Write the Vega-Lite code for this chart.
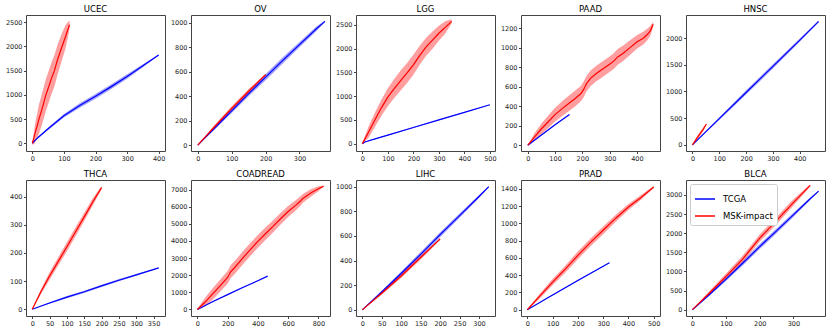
{
"$schema":"https://vega.github.io/schema/vega-lite/v6.json",
"padding":4,
"config":{"font":"DejaVu Sans","numberFormat":"d","view":{"stroke":"#444","strokeWidth":1},
"axis":{"domain":false,"grid":false,"labelFontSize":6.5,"labelColor":"#222","tickColor":"#444","tickSize":2.5,"labelPadding":1.5,"title":null},
"title":{"fontSize":8.5,"fontWeight":"normal","offset":2,"color":"#000","anchor":"middle"}},
"data":{"values":[
{"c":"UCEC","g":"TCGA","x":0,"y":0,"lo":0,"hi":0},
{"c":"UCEC","g":"TCGA","x":10,"y":70,"lo":60,"hi":80},
{"c":"UCEC","g":"TCGA","x":20,"y":130,"lo":115,"hi":145},
{"c":"UCEC","g":"TCGA","x":50,"y":300,"lo":275,"hi":325},
{"c":"UCEC","g":"TCGA","x":100,"y":567,"lo":530,"hi":604},
{"c":"UCEC","g":"TCGA","x":150,"y":780,"lo":735,"hi":825},
{"c":"UCEC","g":"TCGA","x":200,"y":970,"lo":920,"hi":1020},
{"c":"UCEC","g":"TCGA","x":250,"y":1170,"lo":1120,"hi":1220},
{"c":"UCEC","g":"TCGA","x":300,"y":1380,"lo":1335,"hi":1425},
{"c":"UCEC","g":"TCGA","x":350,"y":1600,"lo":1570,"hi":1630},
{"c":"UCEC","g":"TCGA","x":400,"y":1822,"lo":1812,"hi":1832},
{"c":"UCEC","g":"MSK-impact","x":0,"y":0,"lo":-30,"hi":30},
{"c":"UCEC","g":"MSK-impact","x":5,"y":110,"lo":-20,"hi":240},
{"c":"UCEC","g":"MSK-impact","x":10,"y":240,"lo":30,"hi":450},
{"c":"UCEC","g":"MSK-impact","x":15,"y":350,"lo":90,"hi":610},
{"c":"UCEC","g":"MSK-impact","x":21,"y":500,"lo":200,"hi":800},
{"c":"UCEC","g":"MSK-impact","x":30,"y":690,"lo":370,"hi":1010},
{"c":"UCEC","g":"MSK-impact","x":43,"y":1000,"lo":670,"hi":1330},
{"c":"UCEC","g":"MSK-impact","x":50,"y":1130,"lo":800,"hi":1460},
{"c":"UCEC","g":"MSK-impact","x":60,"y":1330,"lo":1000,"hi":1660},
{"c":"UCEC","g":"MSK-impact","x":70,"y":1500,"lo":1175,"hi":1825},
{"c":"UCEC","g":"MSK-impact","x":80,"y":1730,"lo":1420,"hi":2040},
{"c":"UCEC","g":"MSK-impact","x":94,"y":2000,"lo":1720,"hi":2280},
{"c":"UCEC","g":"MSK-impact","x":105,"y":2200,"lo":1960,"hi":2440},
{"c":"UCEC","g":"MSK-impact","x":112,"y":2340,"lo":2170,"hi":2500},
{"c":"UCEC","g":"MSK-impact","x":118,"y":2450,"lo":2370,"hi":2530},
{"c":"OV","g":"TCGA","x":0,"y":0,"lo":0,"hi":0},
{"c":"OV","g":"TCGA","x":50,"y":140,"lo":128,"hi":152},
{"c":"OV","g":"TCGA","x":100,"y":280,"lo":262,"hi":298},
{"c":"OV","g":"TCGA","x":150,"y":420,"lo":398,"hi":442},
{"c":"OV","g":"TCGA","x":200,"y":555,"lo":530,"hi":580},
{"c":"OV","g":"TCGA","x":250,"y":690,"lo":665,"hi":715},
{"c":"OV","g":"TCGA","x":300,"y":820,"lo":798,"hi":842},
{"c":"OV","g":"TCGA","x":350,"y":950,"lo":932,"hi":968},
{"c":"OV","g":"TCGA","x":375,"y":1010,"lo":1002,"hi":1018},
{"c":"OV","g":"MSK-impact","x":0,"y":0,"lo":0,"hi":0},
{"c":"OV","g":"MSK-impact","x":50,"y":152,"lo":138,"hi":166},
{"c":"OV","g":"MSK-impact","x":100,"y":300,"lo":282,"hi":318},
{"c":"OV","g":"MSK-impact","x":150,"y":440,"lo":422,"hi":458},
{"c":"OV","g":"MSK-impact","x":200,"y":575,"lo":567,"hi":583},
{"c":"LGG","g":"TCGA","x":0,"y":0,"lo":0,"hi":0},
{"c":"LGG","g":"TCGA","x":10,"y":35,"lo":31,"hi":39},
{"c":"LGG","g":"TCGA","x":50,"y":100,"lo":92,"hi":108},
{"c":"LGG","g":"TCGA","x":100,"y":180,"lo":170,"hi":190},
{"c":"LGG","g":"TCGA","x":200,"y":340,"lo":330,"hi":350},
{"c":"LGG","g":"TCGA","x":300,"y":500,"lo":490,"hi":510},
{"c":"LGG","g":"TCGA","x":400,"y":660,"lo":652,"hi":668},
{"c":"LGG","g":"TCGA","x":500,"y":820,"lo":816,"hi":824},
{"c":"LGG","g":"MSK-impact","x":0,"y":0,"lo":-20,"hi":20},
{"c":"LGG","g":"MSK-impact","x":25,"y":250,"lo":130,"hi":370},
{"c":"LGG","g":"MSK-impact","x":50,"y":510,"lo":360,"hi":660},
{"c":"LGG","g":"MSK-impact","x":75,"y":760,"lo":590,"hi":930},
{"c":"LGG","g":"MSK-impact","x":101,"y":990,"lo":800,"hi":1180},
{"c":"LGG","g":"MSK-impact","x":125,"y":1160,"lo":960,"hi":1360},
{"c":"LGG","g":"MSK-impact","x":150,"y":1330,"lo":1120,"hi":1540},
{"c":"LGG","g":"MSK-impact","x":177,"y":1500,"lo":1290,"hi":1710},
{"c":"LGG","g":"MSK-impact","x":200,"y":1660,"lo":1450,"hi":1870},
{"c":"LGG","g":"MSK-impact","x":225,"y":1860,"lo":1660,"hi":2060},
{"c":"LGG","g":"MSK-impact","x":250,"y":2040,"lo":1850,"hi":2230},
{"c":"LGG","g":"MSK-impact","x":275,"y":2180,"lo":2000,"hi":2360},
{"c":"LGG","g":"MSK-impact","x":300,"y":2325,"lo":2165,"hi":2485},
{"c":"LGG","g":"MSK-impact","x":325,"y":2450,"lo":2320,"hi":2580},
{"c":"LGG","g":"MSK-impact","x":350,"y":2575,"lo":2530,"hi":2620},
{"c":"PAAD","g":"TCGA","x":0,"y":0,"lo":0,"hi":0},
{"c":"PAAD","g":"TCGA","x":50,"y":105,"lo":100,"hi":110},
{"c":"PAAD","g":"TCGA","x":100,"y":210,"lo":204,"hi":216},
{"c":"PAAD","g":"TCGA","x":153,"y":315,"lo":312,"hi":318},
{"c":"PAAD","g":"MSK-impact","x":0,"y":0,"lo":-5,"hi":5},
{"c":"PAAD","g":"MSK-impact","x":25,"y":85,"lo":45,"hi":125},
{"c":"PAAD","g":"MSK-impact","x":50,"y":168,"lo":113,"hi":223},
{"c":"PAAD","g":"MSK-impact","x":75,"y":240,"lo":175,"hi":305},
{"c":"PAAD","g":"MSK-impact","x":100,"y":313,"lo":243,"hi":383},
{"c":"PAAD","g":"MSK-impact","x":125,"y":372,"lo":297,"hi":447},
{"c":"PAAD","g":"MSK-impact","x":150,"y":428,"lo":348,"hi":508},
{"c":"PAAD","g":"MSK-impact","x":175,"y":482,"lo":402,"hi":562},
{"c":"PAAD","g":"MSK-impact","x":195,"y":530,"lo":450,"hi":610},
{"c":"PAAD","g":"MSK-impact","x":205,"y":572,"lo":492,"hi":652},
{"c":"PAAD","g":"MSK-impact","x":215,"y":630,"lo":550,"hi":710},
{"c":"PAAD","g":"MSK-impact","x":230,"y":685,"lo":605,"hi":765},
{"c":"PAAD","g":"MSK-impact","x":250,"y":732,"lo":652,"hi":812},
{"c":"PAAD","g":"MSK-impact","x":275,"y":780,"lo":700,"hi":860},
{"c":"PAAD","g":"MSK-impact","x":300,"y":830,"lo":750,"hi":910},
{"c":"PAAD","g":"MSK-impact","x":315,"y":862,"lo":782,"hi":942},
{"c":"PAAD","g":"MSK-impact","x":330,"y":905,"lo":825,"hi":985},
{"c":"PAAD","g":"MSK-impact","x":350,"y":942,"lo":862,"hi":1022},
{"c":"PAAD","g":"MSK-impact","x":375,"y":1000,"lo":925,"hi":1075},
{"c":"PAAD","g":"MSK-impact","x":400,"y":1058,"lo":988,"hi":1128},
{"c":"PAAD","g":"MSK-impact","x":425,"y":1100,"lo":1035,"hi":1165},
{"c":"PAAD","g":"MSK-impact","x":440,"y":1140,"lo":1080,"hi":1200},
{"c":"PAAD","g":"MSK-impact","x":450,"y":1175,"lo":1125,"hi":1225},
{"c":"PAAD","g":"MSK-impact","x":460,"y":1240,"lo":1215,"hi":1265},
{"c":"HNSC","g":"TCGA","x":0,"y":0,"lo":0,"hi":0},
{"c":"HNSC","g":"TCGA","x":100,"y":490,"lo":465,"hi":515},
{"c":"HNSC","g":"TCGA","x":200,"y":980,"lo":940,"hi":1020},
{"c":"HNSC","g":"TCGA","x":300,"y":1470,"lo":1430,"hi":1510},
{"c":"HNSC","g":"TCGA","x":400,"y":1960,"lo":1930,"hi":1990},
{"c":"HNSC","g":"TCGA","x":470,"y":2310,"lo":2300,"hi":2320},
{"c":"HNSC","g":"MSK-impact","x":0,"y":0,"lo":0,"hi":0},
{"c":"HNSC","g":"MSK-impact","x":10,"y":75,"lo":50,"hi":100},
{"c":"HNSC","g":"MSK-impact","x":20,"y":150,"lo":115,"hi":185},
{"c":"HNSC","g":"MSK-impact","x":30,"y":220,"lo":180,"hi":260},
{"c":"HNSC","g":"MSK-impact","x":40,"y":290,"lo":255,"hi":325},
{"c":"HNSC","g":"MSK-impact","x":52,"y":390,"lo":378,"hi":402},
{"c":"THCA","g":"TCGA","x":0,"y":0,"lo":0,"hi":0},
{"c":"THCA","g":"TCGA","x":50,"y":22,"lo":19.5,"hi":24.5},
{"c":"THCA","g":"TCGA","x":100,"y":43,"lo":39,"hi":47},
{"c":"THCA","g":"TCGA","x":150,"y":62,"lo":58,"hi":66},
{"c":"THCA","g":"TCGA","x":200,"y":83,"lo":79,"hi":87},
{"c":"THCA","g":"TCGA","x":250,"y":103,"lo":99,"hi":107},
{"c":"THCA","g":"TCGA","x":300,"y":122,"lo":119,"hi":125},
{"c":"THCA","g":"TCGA","x":365,"y":147,"lo":146,"hi":148},
{"c":"THCA","g":"MSK-impact","x":0,"y":0,"lo":-2,"hi":2},
{"c":"THCA","g":"MSK-impact","x":25,"y":62,"lo":53,"hi":71},
{"c":"THCA","g":"MSK-impact","x":50,"y":118,"lo":105,"hi":131},
{"c":"THCA","g":"MSK-impact","x":75,"y":170,"lo":155,"hi":185},
{"c":"THCA","g":"MSK-impact","x":100,"y":222,"lo":206,"hi":238},
{"c":"THCA","g":"MSK-impact","x":125,"y":275,"lo":259,"hi":291},
{"c":"THCA","g":"MSK-impact","x":150,"y":328,"lo":313,"hi":343},
{"c":"THCA","g":"MSK-impact","x":175,"y":382,"lo":369,"hi":395},
{"c":"THCA","g":"MSK-impact","x":200,"y":432,"lo":426,"hi":438},
{"c":"COADREAD","g":"TCGA","x":0,"y":0,"lo":0,"hi":0},
{"c":"COADREAD","g":"TCGA","x":100,"y":450,"lo":425,"hi":475},
{"c":"COADREAD","g":"TCGA","x":200,"y":870,"lo":840,"hi":900},
{"c":"COADREAD","g":"TCGA","x":300,"y":1280,"lo":1250,"hi":1310},
{"c":"COADREAD","g":"TCGA","x":400,"y":1680,"lo":1660,"hi":1700},
{"c":"COADREAD","g":"TCGA","x":465,"y":1950,"lo":1945,"hi":1955},
{"c":"COADREAD","g":"MSK-impact","x":0,"y":0,"lo":-50,"hi":50},
{"c":"COADREAD","g":"MSK-impact","x":50,"y":420,"lo":170,"hi":670},
{"c":"COADREAD","g":"MSK-impact","x":100,"y":900,"lo":570,"hi":1230},
{"c":"COADREAD","g":"MSK-impact","x":150,"y":1380,"lo":1030,"hi":1730},
{"c":"COADREAD","g":"MSK-impact","x":200,"y":1870,"lo":1500,"hi":2240},
{"c":"COADREAD","g":"MSK-impact","x":220,"y":2200,"lo":1820,"hi":2580},
{"c":"COADREAD","g":"MSK-impact","x":250,"y":2480,"lo":2100,"hi":2860},
{"c":"COADREAD","g":"MSK-impact","x":300,"y":3000,"lo":2620,"hi":3380},
{"c":"COADREAD","g":"MSK-impact","x":350,"y":3500,"lo":3120,"hi":3880},
{"c":"COADREAD","g":"MSK-impact","x":400,"y":3980,"lo":3610,"hi":4350},
{"c":"COADREAD","g":"MSK-impact","x":450,"y":4420,"lo":4060,"hi":4780},
{"c":"COADREAD","g":"MSK-impact","x":500,"y":4850,"lo":4500,"hi":5200},
{"c":"COADREAD","g":"MSK-impact","x":550,"y":5300,"lo":4960,"hi":5640},
{"c":"COADREAD","g":"MSK-impact","x":600,"y":5720,"lo":5400,"hi":6040},
{"c":"COADREAD","g":"MSK-impact","x":650,"y":6080,"lo":5780,"hi":6380},
{"c":"COADREAD","g":"MSK-impact","x":680,"y":6320,"lo":6040,"hi":6600},
{"c":"COADREAD","g":"MSK-impact","x":700,"y":6500,"lo":6240,"hi":6760},
{"c":"COADREAD","g":"MSK-impact","x":750,"y":6800,"lo":6580,"hi":7020},
{"c":"COADREAD","g":"MSK-impact","x":800,"y":7050,"lo":6900,"hi":7200},
{"c":"COADREAD","g":"MSK-impact","x":835,"y":7200,"lo":7160,"hi":7240},
{"c":"LIHC","g":"TCGA","x":0,"y":0,"lo":0,"hi":0},
{"c":"LIHC","g":"TCGA","x":50,"y":145,"lo":135,"hi":155},
{"c":"LIHC","g":"TCGA","x":100,"y":295,"lo":279,"hi":311},
{"c":"LIHC","g":"TCGA","x":150,"y":450,"lo":430,"hi":470},
{"c":"LIHC","g":"TCGA","x":200,"y":610,"lo":590,"hi":630},
{"c":"LIHC","g":"TCGA","x":250,"y":765,"lo":747,"hi":783},
{"c":"LIHC","g":"TCGA","x":300,"y":920,"lo":908,"hi":932},
{"c":"LIHC","g":"TCGA","x":325,"y":1000,"lo":996,"hi":1004},
{"c":"LIHC","g":"MSK-impact","x":0,"y":0,"lo":0,"hi":0},
{"c":"LIHC","g":"MSK-impact","x":50,"y":135,"lo":122,"hi":148},
{"c":"LIHC","g":"MSK-impact","x":100,"y":275,"lo":258,"hi":292},
{"c":"LIHC","g":"MSK-impact","x":150,"y":425,"lo":408,"hi":442},
{"c":"LIHC","g":"MSK-impact","x":200,"y":575,"lo":569,"hi":581},
{"c":"PRAD","g":"TCGA","x":0,"y":0,"lo":0,"hi":0},
{"c":"PRAD","g":"TCGA","x":100,"y":170,"lo":164,"hi":176},
{"c":"PRAD","g":"TCGA","x":200,"y":340,"lo":332,"hi":348},
{"c":"PRAD","g":"TCGA","x":325,"y":545,"lo":541,"hi":549},
{"c":"PRAD","g":"MSK-impact","x":0,"y":0,"lo":-5,"hi":5},
{"c":"PRAD","g":"MSK-impact","x":50,"y":160,"lo":132,"hi":188},
{"c":"PRAD","g":"MSK-impact","x":100,"y":320,"lo":285,"hi":355},
{"c":"PRAD","g":"MSK-impact","x":150,"y":470,"lo":430,"hi":510},
{"c":"PRAD","g":"MSK-impact","x":200,"y":630,"lo":585,"hi":675},
{"c":"PRAD","g":"MSK-impact","x":250,"y":780,"lo":735,"hi":825},
{"c":"PRAD","g":"MSK-impact","x":300,"y":920,"lo":875,"hi":965},
{"c":"PRAD","g":"MSK-impact","x":350,"y":1060,"lo":1020,"hi":1100},
{"c":"PRAD","g":"MSK-impact","x":400,"y":1190,"lo":1155,"hi":1225},
{"c":"PRAD","g":"MSK-impact","x":450,"y":1300,"lo":1272,"hi":1328},
{"c":"PRAD","g":"MSK-impact","x":500,"y":1420,"lo":1408,"hi":1432},
{"c":"BLCA","g":"TCGA","x":0,"y":0,"lo":0,"hi":0},
{"c":"BLCA","g":"TCGA","x":50,"y":390,"lo":360,"hi":420},
{"c":"BLCA","g":"TCGA","x":100,"y":800,"lo":750,"hi":850},
{"c":"BLCA","g":"TCGA","x":150,"y":1220,"lo":1160,"hi":1280},
{"c":"BLCA","g":"TCGA","x":200,"y":1650,"lo":1585,"hi":1715},
{"c":"BLCA","g":"TCGA","x":250,"y":2060,"lo":1995,"hi":2125},
{"c":"BLCA","g":"TCGA","x":300,"y":2480,"lo":2425,"hi":2535},
{"c":"BLCA","g":"TCGA","x":350,"y":2900,"lo":2865,"hi":2935},
{"c":"BLCA","g":"TCGA","x":375,"y":3100,"lo":3090,"hi":3110},
{"c":"BLCA","g":"MSK-impact","x":0,"y":0,"lo":0,"hi":0},
{"c":"BLCA","g":"MSK-impact","x":50,"y":430,"lo":375,"hi":485},
{"c":"BLCA","g":"MSK-impact","x":100,"y":870,"lo":795,"hi":945},
{"c":"BLCA","g":"MSK-impact","x":150,"y":1330,"lo":1245,"hi":1415},
{"c":"BLCA","g":"MSK-impact","x":200,"y":1870,"lo":1775,"hi":1965},
{"c":"BLCA","g":"MSK-impact","x":250,"y":2330,"lo":2235,"hi":2425},
{"c":"BLCA","g":"MSK-impact","x":300,"y":2800,"lo":2715,"hi":2885},
{"c":"BLCA","g":"MSK-impact","x":350,"y":3250,"lo":3220,"hi":3280}
]},
"columns":5,
"spacing":{"row":29,"column":26},
"bounds":"flush",
"resolve":{"scale":{"color":"independent","fill":"independent"},"legend":{"color":"independent","fill":"independent"}},
"concat":[
{"title":"UCEC","width":139,"height":136,"transform":[{"filter":"datum.c === 'UCEC'"}],
"encoding":{"x":{"field":"x","type":"quantitative","scale":{"domain":[-20,420],"nice":false,"zero":false},"axis":{"values":[0,100,200,300,400]}}},
"layer":[
{"mark":{"type":"area","opacity":0.38},"encoding":{"y":{"field":"lo","type":"quantitative","scale":{"domain":[-160,2650],"nice":false,"zero":false},"axis":{"values":[0,500,1000,1500,2000,2500]}},"y2":{"field":"hi"},"fill":{"field":"g","type":"nominal","scale":{"domain":["TCGA","MSK-impact"],"range":["#0000ff","#ff0000"]},"legend":null}}},
{"mark":{"type":"line","strokeWidth":1.2},"encoding":{"y":{"field":"y","type":"quantitative","axis":{"values":[0,500,1000,1500,2000,2500]}},"color":{"field":"g","type":"nominal","scale":{"domain":["TCGA","MSK-impact"],"range":["#0000ff","#ff0000"]},"legend":null}}}
]},
{"title":"OV","width":139,"height":136,"transform":[{"filter":"datum.c === 'OV'"}],
"encoding":{"x":{"field":"x","type":"quantitative","scale":{"domain":[-20,390],"nice":false,"zero":false},"axis":{"values":[0,100,200,300]}}},
"layer":[
{"mark":{"type":"area","opacity":0.38},"encoding":{"y":{"field":"lo","type":"quantitative","scale":{"domain":[-48,1062],"nice":false,"zero":false},"axis":{"values":[0,200,400,600,800,1000]}},"y2":{"field":"hi"},"fill":{"field":"g","type":"nominal","scale":{"domain":["TCGA","MSK-impact"],"range":["#0000ff","#ff0000"]},"legend":null}}},
{"mark":{"type":"line","strokeWidth":1.2},"encoding":{"y":{"field":"y","type":"quantitative","axis":{"values":[0,200,400,600,800,1000]}},"color":{"field":"g","type":"nominal","scale":{"domain":["TCGA","MSK-impact"],"range":["#0000ff","#ff0000"]},"legend":null}}}
]},
{"title":"LGG","width":139,"height":136,"transform":[{"filter":"datum.c === 'LGG'"}],
"encoding":{"x":{"field":"x","type":"quantitative","scale":{"domain":[-25,520],"nice":false,"zero":false},"axis":{"values":[0,100,200,300,400,500]}}},
"layer":[
{"mark":{"type":"area","opacity":0.38},"encoding":{"y":{"field":"lo","type":"quantitative","scale":{"domain":[-155,2710],"nice":false,"zero":false},"axis":{"values":[0,500,1000,1500,2000,2500]}},"y2":{"field":"hi"},"fill":{"field":"g","type":"nominal","scale":{"domain":["TCGA","MSK-impact"],"range":["#0000ff","#ff0000"]},"legend":null}}},
{"mark":{"type":"line","strokeWidth":1.2},"encoding":{"y":{"field":"y","type":"quantitative","axis":{"values":[0,500,1000,1500,2000,2500]}},"color":{"field":"g","type":"nominal","scale":{"domain":["TCGA","MSK-impact"],"range":["#0000ff","#ff0000"]},"legend":null}}}
]},
{"title":"PAAD","width":139,"height":136,"transform":[{"filter":"datum.c === 'PAAD'"}],
"encoding":{"x":{"field":"x","type":"quantitative","scale":{"domain":[-25,485],"nice":false,"zero":false},"axis":{"values":[0,100,200,300,400]}}},
"layer":[
{"mark":{"type":"area","opacity":0.38},"encoding":{"y":{"field":"lo","type":"quantitative","scale":{"domain":[-60,1335],"nice":false,"zero":false},"axis":{"values":[0,200,400,600,800,1000,1200]}},"y2":{"field":"hi"},"fill":{"field":"g","type":"nominal","scale":{"domain":["TCGA","MSK-impact"],"range":["#0000ff","#ff0000"]},"legend":null}}},
{"mark":{"type":"line","strokeWidth":1.2},"encoding":{"y":{"field":"y","type":"quantitative","axis":{"values":[0,200,400,600,800,1000,1200]}},"color":{"field":"g","type":"nominal","scale":{"domain":["TCGA","MSK-impact"],"range":["#0000ff","#ff0000"]},"legend":null}}}
]},
{"title":"HNSC","width":139,"height":136,"transform":[{"filter":"datum.c === 'HNSC'"}],
"encoding":{"x":{"field":"x","type":"quantitative","scale":{"domain":[-24,494],"nice":false,"zero":false},"axis":{"values":[0,100,200,300,400]}}},
"layer":[
{"mark":{"type":"area","opacity":0.38},"encoding":{"y":{"field":"lo","type":"quantitative","scale":{"domain":[-116,2431],"nice":false,"zero":false},"axis":{"values":[0,500,1000,1500,2000]}},"y2":{"field":"hi"},"fill":{"field":"g","type":"nominal","scale":{"domain":["TCGA","MSK-impact"],"range":["#0000ff","#ff0000"]},"legend":null}}},
{"mark":{"type":"line","strokeWidth":1.2},"encoding":{"y":{"field":"y","type":"quantitative","axis":{"values":[0,500,1000,1500,2000]}},"color":{"field":"g","type":"nominal","scale":{"domain":["TCGA","MSK-impact"],"range":["#0000ff","#ff0000"]},"legend":null}}}
]},
{"title":"THCA","width":139,"height":136,"transform":[{"filter":"datum.c === 'THCA'"}],
"encoding":{"x":{"field":"x","type":"quantitative","scale":{"domain":[-18,383],"nice":false,"zero":false},"axis":{"values":[0,50,100,150,200,250,300,350]}}},
"layer":[
{"mark":{"type":"area","opacity":0.38},"encoding":{"y":{"field":"lo","type":"quantitative","scale":{"domain":[-24,459],"nice":false,"zero":false},"axis":{"values":[0,100,200,300,400]}},"y2":{"field":"hi"},"fill":{"field":"g","type":"nominal","scale":{"domain":["TCGA","MSK-impact"],"range":["#0000ff","#ff0000"]},"legend":null}}},
{"mark":{"type":"line","strokeWidth":1.2},"encoding":{"y":{"field":"y","type":"quantitative","axis":{"values":[0,100,200,300,400]}},"color":{"field":"g","type":"nominal","scale":{"domain":["TCGA","MSK-impact"],"range":["#0000ff","#ff0000"]},"legend":null}}}
]},
{"title":"COADREAD","width":139,"height":136,"transform":[{"filter":"datum.c === 'COADREAD'"}],
"encoding":{"x":{"field":"x","type":"quantitative","scale":{"domain":[-42,877],"nice":false,"zero":false},"axis":{"values":[0,200,400,600,800]}}},
"layer":[
{"mark":{"type":"area","opacity":0.38},"encoding":{"y":{"field":"lo","type":"quantitative","scale":{"domain":[-380,7560],"nice":false,"zero":false},"axis":{"values":[0,1000,2000,3000,4000,5000,6000,7000]}},"y2":{"field":"hi"},"fill":{"field":"g","type":"nominal","scale":{"domain":["TCGA","MSK-impact"],"range":["#0000ff","#ff0000"]},"legend":null}}},
{"mark":{"type":"line","strokeWidth":1.2},"encoding":{"y":{"field":"y","type":"quantitative","axis":{"values":[0,1000,2000,3000,4000,5000,6000,7000]}},"color":{"field":"g","type":"nominal","scale":{"domain":["TCGA","MSK-impact"],"range":["#0000ff","#ff0000"]},"legend":null}}}
]},
{"title":"LIHC","width":139,"height":136,"transform":[{"filter":"datum.c === 'LIHC'"}],
"encoding":{"x":{"field":"x","type":"quantitative","scale":{"domain":[-16,341],"nice":false,"zero":false},"axis":{"values":[0,50,100,150,200,250,300]}}},
"layer":[
{"mark":{"type":"area","opacity":0.38},"encoding":{"y":{"field":"lo","type":"quantitative","scale":{"domain":[-50,1054],"nice":false,"zero":false},"axis":{"values":[0,200,400,600,800,1000]}},"y2":{"field":"hi"},"fill":{"field":"g","type":"nominal","scale":{"domain":["TCGA","MSK-impact"],"range":["#0000ff","#ff0000"]},"legend":null}}},
{"mark":{"type":"line","strokeWidth":1.2},"encoding":{"y":{"field":"y","type":"quantitative","axis":{"values":[0,200,400,600,800,1000]}},"color":{"field":"g","type":"nominal","scale":{"domain":["TCGA","MSK-impact"],"range":["#0000ff","#ff0000"]},"legend":null}}}
]},
{"title":"PRAD","width":139,"height":136,"transform":[{"filter":"datum.c === 'PRAD'"}],
"encoding":{"x":{"field":"x","type":"quantitative","scale":{"domain":[-25,525],"nice":false,"zero":false},"axis":{"values":[0,100,200,300,400,500]}}},
"layer":[
{"mark":{"type":"area","opacity":0.38},"encoding":{"y":{"field":"lo","type":"quantitative","scale":{"domain":[-72,1502],"nice":false,"zero":false},"axis":{"values":[0,200,400,600,800,1000,1200,1400]}},"y2":{"field":"hi"},"fill":{"field":"g","type":"nominal","scale":{"domain":["TCGA","MSK-impact"],"range":["#0000ff","#ff0000"]},"legend":null}}},
{"mark":{"type":"line","strokeWidth":1.2},"encoding":{"y":{"field":"y","type":"quantitative","axis":{"values":[0,200,400,600,800,1000,1200,1400]}},"color":{"field":"g","type":"nominal","scale":{"domain":["TCGA","MSK-impact"],"range":["#0000ff","#ff0000"]},"legend":null}}}
]},
{"title":"BLCA","width":139,"height":136,"transform":[{"filter":"datum.c === 'BLCA'"}],
"encoding":{"x":{"field":"x","type":"quantitative","scale":{"domain":[-19,394],"nice":false,"zero":false},"axis":{"values":[0,100,200,300]}}},
"layer":[
{"mark":{"type":"area","opacity":0.38},"encoding":{"y":{"field":"lo","type":"quantitative","scale":{"domain":[-165,3390],"nice":false,"zero":false},"axis":{"values":[0,500,1000,1500,2000,2500,3000]}},"y2":{"field":"hi"},"color":{"field":"g","type":"nominal","scale":{"domain":["TCGA","MSK-impact"],"range":["#0000ff","#ff0000"]},"legend":{"title":null,"orient":"top-left","offset":4,"symbolType":"stroke","symbolStrokeWidth":1.5,"symbolSize":400,"symbolOpacity":1,"labelFontSize":8.5,"labelColor":"#000","padding":4,"strokeColor":"#cccccc","fillColor":"white","cornerRadius":2,"rowPadding":1,"labelOffset":7}}}},
{"mark":{"type":"line","strokeWidth":1.2},"encoding":{"y":{"field":"y","type":"quantitative","axis":{"values":[0,500,1000,1500,2000,2500,3000]}},"color":{"field":"g","type":"nominal","scale":{"domain":["TCGA","MSK-impact"],"range":["#0000ff","#ff0000"]},"legend":{"title":null,"orient":"top-left","offset":4,"symbolType":"stroke","symbolStrokeWidth":1.5,"symbolSize":400,"symbolOpacity":1,"labelFontSize":8.5,"labelColor":"#000","padding":4,"strokeColor":"#cccccc","fillColor":"white","cornerRadius":2,"rowPadding":1,"labelOffset":7}}}}
]}
]
}
